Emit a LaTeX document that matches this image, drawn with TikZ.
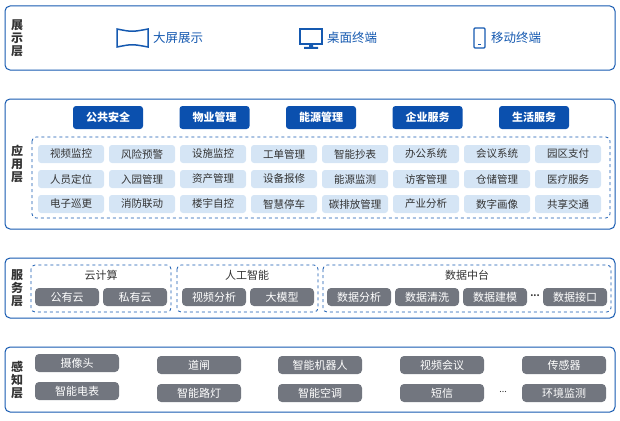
\documentclass[tikz,border=0pt]{standalone}
\usepackage{fontspec}
\setmainfont{Noto Sans CJK SC}
\definecolor{bl}{HTML}{1559B0}
\definecolor{btn}{HTML}{0B50AE}
\definecolor{cell}{HTML}{D5E5F5}
\definecolor{gr}{HTML}{72767F}
\definecolor{tx}{HTML}{333333}
\begin{document}
\begin{tikzpicture}[x=1pt,y=-1pt,
 layer/.style={draw=bl,line width=1pt,rounded corners=5pt},
 grp/.style={draw=bl,dashed,line width=0.8pt,rounded corners=4pt},
 btnbox/.style={fill=btn,rounded corners=3pt,text=white,font=\fontsize{11}{12}\selectfont\bfseries,minimum height=23pt,minimum width=70pt,inner sep=0pt},
 cellbox/.style={fill=cell,rounded corners=3pt,text=tx,font=\fontsize{10.5}{11}\selectfont,minimum height=18pt,minimum width=66pt,inner sep=0pt},
 greybox/.style={fill=gr,rounded corners=4pt,text=white,font=\fontsize{11}{12}\selectfont,minimum height=18pt,minimum width=64pt,inner sep=0pt},
 sensbox/.style={greybox,minimum width=84pt},
 lbl/.style={font=\fontsize{12}{13}\selectfont\bfseries,text=tx,align=center,inner sep=0pt},
 shw/.style={text=bl,font=\fontsize{12.5}{13}\selectfont,anchor=west,inner sep=0pt},
 gtitle/.style={text=tx,font=\fontsize{11}{12}\selectfont,inner sep=0pt}]
\useasboundingbox (0,0) rectangle (620,420);
% layers
\draw[layer] (5,6) rectangle (615,70);
\draw[layer] (5,99) rectangle (615,229);
\draw[layer] (5,258) rectangle (615,318);
\draw[layer] (5,347) rectangle (615,412);
\node[lbl] (l1) at (17,38) {展\\示\\层};
\node[lbl] (l2) at (17,164) {应\\用\\层};
\node[lbl] (l3) at (17,288) {服\\务\\层};
\node[lbl] (l4) at (17,380) {感\\知\\层};
% display icons
\draw[bl,line width=1.5pt] (117,29) .. controls (132,32) .. (148,29) -- (148,47) .. controls (132,44) .. (117,47) -- cycle;
\node[shw] (s1) at (153,38) {大屏展示};
\draw[bl,line width=1.6pt] (300,29) rectangle (322,44);
\fill[bl] (309,44) rectangle (313,47.5) (304,47) rectangle (318,49);
\node[shw] (s2) at (327,38) {桌面终端};
\draw[bl,line width=1.2pt,rounded corners=1pt] (474,28) rectangle (485,48);
\draw[bl,line width=1pt] (478,44.5) -- (481,44.5);
\node[shw] (s3) at (491,38) {移动终端};
% application
\foreach \t [count=\i] in {公共安全,物业管理,能源管理,企业服务,生活服务}
  \node[btnbox] (b\i) at ({108+(\i-1)*106.5},117.5) {\t};
\draw[grp] (32,137) rectangle (610,218);
\foreach \t [count=\i] in {视频监控,风险预警,设施监控,工单管理,智能抄表,办公系统,会议系统,园区支付}
  \node[cellbox] (c1\i) at ({71+(\i-1)*71},154) {\t};
\foreach \t [count=\i] in {人员定位,入园管理,资产管理,设备报修,能源监测,访客管理,仓储管理,医疗服务}
  \node[cellbox] (c2\i) at ({71+(\i-1)*71},179) {\t};
\foreach \t [count=\i] in {电子巡更,消防联动,楼宇自控,智慧停车,碳排放管理,产业分析,数字画像,共享交通}
  \node[cellbox] (c3\i) at ({71+(\i-1)*71},204) {\t};
% services
\draw[grp] (31,265) rectangle (171,312);
\draw[grp] (177,265) rectangle (318,312);
\draw[grp] (323,265) rectangle (611,312);
\node[gtitle] (g1) at (101,275) {云计算};
\node[gtitle] (g2) at (247,275) {人工智能};
\node[gtitle] (g3) at (467,275) {数据中台};
\node[greybox] (p1) at (67,297) {公有云};
\node[greybox] (p2) at (135,297) {私有云};
\node[greybox] (p3) at (214,297) {视频分析};
\node[greybox] (p4) at (282,297) {大模型};
\node[greybox] (p5) at (359,297) {数据分析};
\node[greybox] (p6) at (427,297) {数据清洗};
\node[greybox] (p7) at (495,297) {数据建模};
\node[text=tx,inner sep=0pt] (pd) at (535,296) {\fontsize{9}{10}\selectfont\bfseries ...};
\node[greybox] (p8) at (575,297) {数据接口};
% perception
\node[sensbox] (q1) at (77,363) {摄像头};
\node[sensbox] (q2) at (199,365) {道闸};
\node[sensbox] (q3) at (320,365) {智能机器人};
\node[sensbox] (q4) at (442,365) {视频会议};
\node[sensbox] (q5) at (564,365) {传感器};
\node[sensbox] (r1) at (77,391) {智能电表};
\node[sensbox] (r2) at (199,393) {智能路灯};
\node[sensbox] (r3) at (320,393) {智能空调};
\node[sensbox] (r4) at (442,393) {短信};
\node[text=tx,inner sep=0pt] (rd) at (503,392) {\fontsize{9}{10}\selectfont ...};
\node[sensbox] (r5) at (564,393) {环境监测};
\end{tikzpicture}
\end{document}
